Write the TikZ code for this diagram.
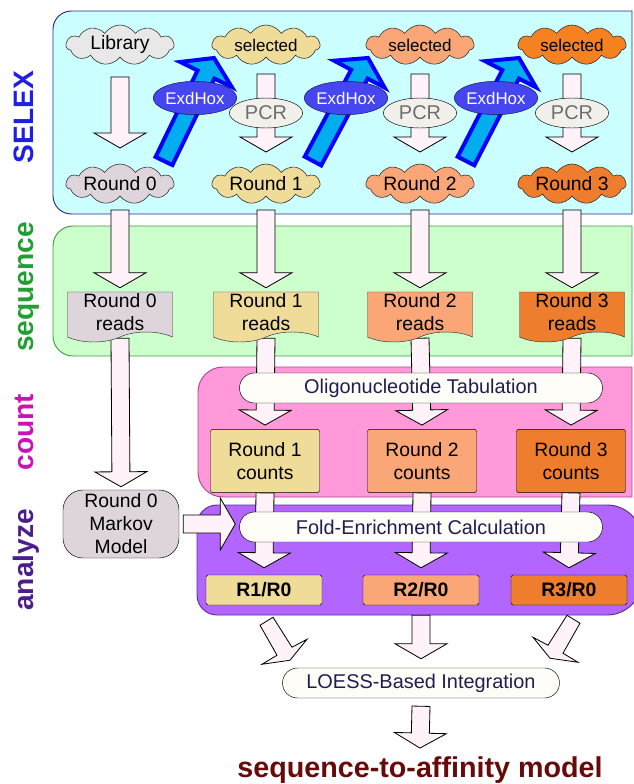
\documentclass[tikz,border=0pt]{standalone}
\usepackage{fontspec}
\setmainfont{Liberation Sans}
\usepackage{xcolor}
\usepackage{tikz}
\usetikzlibrary{shapes,arrows,positioning,calc}

\definecolor{selexbg}{HTML}{CCFFFF}
\definecolor{selexline}{HTML}{28288C}
\definecolor{seqbg}{HTML}{CCFFCC}
\definecolor{seqline}{HTML}{3C9B3C}
\definecolor{countbg}{HTML}{FF99D9}
\definecolor{countline}{HTML}{B4419B}
\definecolor{anabg}{HTML}{B366FF}
\definecolor{analine}{HTML}{5A2D91}
\definecolor{libfill}{HTML}{E8E8E8}
\definecolor{rzero}{HTML}{DED5DC}
\definecolor{rone}{HTML}{EEDC98}
\definecolor{rtwo}{HTML}{FBA677}
\definecolor{rthree}{HTML}{EE7D2E}
\definecolor{selthree}{HTML}{F68121}
\definecolor{arrowfill}{HTML}{FFF2F8}
\definecolor{pcrfill}{HTML}{F2F0EB}
\definecolor{pcrtext}{HTML}{6E6E6E}
\definecolor{exdfill}{HTML}{4646F0}
\definecolor{exdline}{HTML}{141450}
\definecolor{pillfill}{HTML}{FFFDF7}
\definecolor{pilltext}{HTML}{1E1E50}
\definecolor{labselex}{HTML}{1E1EE6}
\definecolor{labseq}{HTML}{229E32}
\definecolor{labcount}{HTML}{C814B4}
\definecolor{labana}{HTML}{4B1E8C}
\definecolor{modelred}{HTML}{660A0A}

\pgfdeclarelayer{panels}
\pgfdeclarelayer{arrows}
\pgfsetlayers{panels,arrows,main}

\newcommand{\fatarrow}[2]{%
  \path (#1) coordinate (fa-a);
  \path (#2) coordinate (fa-b);
  \path ($(fa-b)!0.45cm!(fa-a)$) coordinate (fa-h);
  \filldraw[bigarrow] ($(fa-a)!0.27cm!90:(fa-b)$) -- ($(fa-h)!0.27cm!90:(fa-b)$)
    -- ($(fa-h)!0.78cm!90:(fa-b)$) -- (fa-b) -- ($(fa-h)!0.78cm!-90:(fa-b)$)
    -- ($(fa-h)!0.27cm!-90:(fa-b)$) -- ($(fa-a)!0.27cm!-90:(fa-b)$) -- cycle;}
\newcommand{\exdarrow}[2]{%
  \path (#1) coordinate (xa-a);
  \path (#2) coordinate (xa-b);
  \path ($(xa-b)!0.55cm!(xa-a)$) coordinate (xa-h);
  \filldraw[selarrow] ($(xa-a)!0.28cm!90:(xa-b)$) -- ($(xa-h)!0.28cm!90:(xa-b)$)
    -- ($(xa-h)!0.86cm!90:(xa-b)$) -- (xa-b) -- ($(xa-h)!0.86cm!-90:(xa-b)$)
    -- ($(xa-h)!0.28cm!-90:(xa-b)$) -- ($(xa-a)!0.28cm!-90:(xa-b)$) -- cycle;}

\begin{document}
\begin{tikzpicture}[
  x=0.03cm, y=-0.03cm,
  cloudbox/.style={cloud, cloud puffs=11, cloud puff arc=115, cloud ignores aspect,
    draw=black!80, line width=0.5pt, minimum width=3.24cm, minimum height=1.2cm,
    inner sep=0pt, font=\fontsize{16.5}{19.6}\selectfont},
  selbox/.style={cloudbox, font=\fontsize{14.5}{17}\selectfont},
  pcrbox/.style={ellipse, draw, fill=pcrfill, text=pcrtext, minimum width=2.2cm,
    minimum height=0.9cm, inner sep=0pt, font=\fontsize{17}{20}\selectfont},
  exdbox/.style={ellipse, draw=exdline, fill=exdfill, text=white, minimum width=2.25cm,
    minimum height=1cm, inner sep=0pt, font=\fontsize{14.4}{17}\selectfont},
  readsbox/.style={tape, tape bend top=none, tape bend bottom=in and out,
    tape bend height=0.3cm, draw=black!80, minimum width=3.15cm, minimum height=1.5cm,
    inner sep=0pt, align=center, font=\fontsize{16.5}{19.6}\selectfont},
  countbox/.style={rectangle, rounded corners=2pt, draw, minimum width=3.27cm,
    minimum height=1.9cm, align=center, font=\fontsize{16.5}{19.6}\selectfont},
  ratiobox/.style={rectangle, rounded corners=1.5pt, draw, minimum width=3.48cm,
    minimum height=0.9cm, font=\bfseries\fontsize{16.6}{19}\selectfont},
  pillbox/.style={rectangle, rounded corners=0.45cm, draw, fill=pillfill, text=pilltext,
    minimum height=0.9cm, inner sep=0pt, font=\fontsize{17}{20}\selectfont},
  markovbox/.style={rectangle, rounded corners=0.6cm, draw, fill=rzero, minimum width=3.48cm,
    minimum height=2.04cm, inner sep=0pt, align=center, font=\fontsize{16.5}{19.6}\selectfont},
  stagelabel/.style={rotate=90, anchor=base, font=\bfseries\fontsize{24}{28}\selectfont},
  bigarrow/.style={draw=black, fill=arrowfill, line width=0.7pt},
  selarrow/.style={draw=blue, fill=cyan, line width=3.4pt, line join=miter},
  panel/.style={line width=0.8pt}
]
\useasboundingbox (0,0) rectangle (633,784);

\begin{pgfonlayer}{panels}
\filldraw[panel, fill=selexbg, draw=selexline] (632,11) [rounded corners=0.55cm] -- (53,11) -- (53,214) [sharp corners] -- (632,214) -- cycle;
\filldraw[panel, fill=seqbg, draw=seqline] (632,226) [rounded corners=0.6cm] -- (53,226) -- (53,356) [sharp corners] -- (632,356) -- cycle;
\filldraw[panel, fill=countbg, draw=countline] (632,367) [rounded corners=0.75cm] -- (198,367) -- (198,497) [sharp corners] -- (632,497) -- cycle;
\filldraw[panel, fill=anabg, draw=analine] (400,505) [rounded corners=0.6cm] -- (197,505) -- (197,615) [rounded corners=1.05cm] -- (642,615) -- (642,505) -- cycle;
\end{pgfonlayer}

\node[stagelabel, text=labselex] (lselex) at (33,117) {SELEX};
\node[stagelabel, text=labseq] (lseq) at (33,287) {sequence};
\node[stagelabel, text=labcount] (lcount) at (33,432) {count};
\node[stagelabel, text=labana] (lana) at (33,560) {analyze};

\node[cloudbox, fill=libfill] (lib) at (120,45) {Library};
\node[selbox, fill=rone] (s1) at (266,45) {selected};
\node[selbox, fill=rtwo] (s2) at (420,45) {selected};
\node[selbox, fill=selthree] (s3) at (572,45) {selected};
\node[cloudbox, fill=rzero] (r0) at (120,184) {Round 0};
\node[cloudbox, fill=rone] (r1) at (266,184) {Round 1};
\node[cloudbox, fill=rtwo] (r2) at (420,184) {Round 2};
\node[cloudbox, fill=rthree] (r3) at (572,184) {Round 3};
\node[pcrbox] (p1) at (266,113) {PCR};
\node[pcrbox] (p2) at (420,113) {PCR};
\node[pcrbox] (p3) at (572,113) {PCR};
\node[exdbox] (x1) at (195,98) {ExdHox};
\node[exdbox] (x2) at (346,98) {ExdHox};
\node[exdbox] (x3) at (496,98) {ExdHox};

\node[readsbox, fill=rzero] (d0) at (120,312) {Round 0\\reads};
\node[readsbox, fill=rone] (d1) at (266,312) {Round 1\\reads};
\node[readsbox, fill=rtwo] (d2) at (420,312) {Round 2\\reads};
\node[readsbox, fill=rthree] (d3) at (572,312) {Round 3\\reads};

\node[pillbox, minimum width=10.89cm] (tab) at (421,388) {Oligonucleotide Tabulation};
\node[countbox, fill=rone] (n1) at (265,461) {Round 1\\counts};
\node[countbox, fill=rtwo] (n2) at (422,461) {Round 2\\counts};
\node[countbox, fill=rthree] (n3) at (571,461) {Round 3\\counts};

\node[markovbox] (mk) at (121,524) {Round 0\\Markov\\Model};
\node[pillbox, minimum width=10.89cm] (fold) at (421,527) {Fold-Enrichment Calculation};
\node[ratiobox, fill=rone] (q1) at (264,590) {R1/R0};
\node[ratiobox, fill=rtwo] (q2) at (421,590) {R2/R0};
\node[ratiobox, fill=rthree] (q3) at (569,590) {R3/R0};

\node[pillbox, minimum width=8.31cm] (loess) at (421,683) {LOESS-Based Integration};
\node[anchor=base, text=modelred, font=\bfseries\fontsize{24.5}{29}\selectfont] (model) at (420,777) {sequence-to-affinity model};

\begin{pgfonlayer}{arrows}
\fatarrow{$(lib.center)+(0,32)$}{$(r0.center)+(0,-36)$}
\fatarrow{$(s1.center)+(0,29)$}{$(r1.center)+(0,-32)$}
\fatarrow{$(s2.center)+(0,29)$}{$(r2.center)+(0,-32)$}
\fatarrow{$(s3.center)+(0,29)$}{$(r3.center)+(0,-32)$}
\exdarrow{$(r0.center)+(44,-23)$}{$(s1.center)+(-52,13)$}
\exdarrow{$(r1.center)+(47,-23)$}{$(s2.center)+(-52,13)$}
\exdarrow{$(r2.center)+(46,-23)$}{$(s3.center)+(-53,13)$}
\fatarrow{$(r0.center)+(0,26)$}{$(d0.north)+(0,-4)$}
\fatarrow{$(r1.center)+(0,26)$}{$(d1.north)+(0,-4)$}
\fatarrow{$(r2.center)+(0,26)$}{$(d2.north)+(0,-4)$}
\fatarrow{$(r3.center)+(0,26)$}{$(d3.north)+(0,-4)$}
\fatarrow{$(d0.south)+(0,6)$}{$(mk.north)+(0,-3)$}
\fatarrow{$(d1.south)+(0,6)$}{$(n1.north)+(0,-4)$}
\fatarrow{$(d2.south)+(0,6)$}{$(n2.north)+(0,-4)$}
\fatarrow{$(d3.south)+(0,6)$}{$(n3.north)+(0,-4)$}
\fatarrow{n1.south}{$(q1.north)+(0,-7)$}
\fatarrow{n2.south}{$(q2.north)+(0,-7)$}
\fatarrow{n3.south}{$(q3.north)+(0,-7)$}
\fatarrow{$(mk.east)+(4,0)$}{$(fold.west |- mk.east)+(-4,0)$}
\filldraw[bigarrow, shift={(q1.south)}] (-4,20) -- (9,12) -- (28,42) -- (43,34) -- (26,55) -- (-2,59) -- (13,50) -- cycle;
\fatarrow{$(q2.south)+(0,10)$}{$(loess.north)+(0,-9)$}
\filldraw[bigarrow, shift={(q3.south)}] (11,18) -- (-2,10) -- (-21,40) -- (-36,32) -- (-19,53) -- (9,57) -- (-6,48) -- cycle;
\fatarrow{$(loess.south)+(0,8)$}{$(model.north)+(0,-4)$}
\end{pgfonlayer}
\end{tikzpicture}
\end{document}
